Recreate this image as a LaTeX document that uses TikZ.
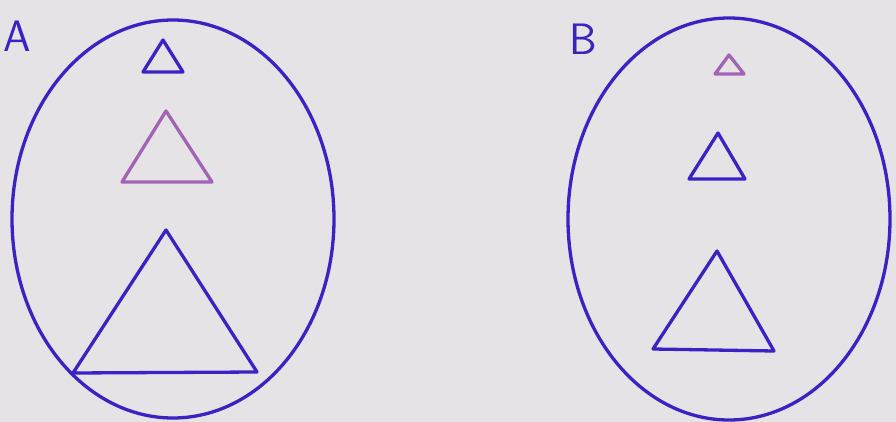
\documentclass[tikz,border=0pt]{standalone}
\begin{document}
\begin{tikzpicture}[x=1pt,y=-1pt]
\definecolor{paper}{HTML}{E5E3E6}
\definecolor{inkblue}{HTML}{3A22C4}
\definecolor{inkpink}{HTML}{A263B4}
\tikzset{
  bluestroke/.style={draw=inkblue,line width=3.3pt,line join=round,line cap=round},
  pinkstroke/.style={draw=inkpink,line width=3.3pt,line join=round,line cap=round},
  lbl/.style={text=inkblue,font=\fontsize{44}{44}\selectfont\sffamily,inner sep=0pt,anchor=center}
}
\fill[paper] (0,0) rectangle (896,422);
\useasboundingbox (0,0) rectangle (896,422);
% ovals
\draw[bluestroke] (173,219) ellipse [x radius=161, y radius=199];
\draw[bluestroke] (729,219) ellipse [x radius=161, y radius=201];
% labels
\node[lbl] (la) at (17,36) {A};
\node[lbl] (lb) at (583,39) {B};
% triangles A
\draw[bluestroke] (163,40) -- (183,72) -- (143,72) -- cycle;
\draw[pinkstroke] (166,111) -- (212,182) -- (122,182) -- cycle;
\draw[bluestroke] (166,230) -- (257,372) -- (73,373) -- cycle;
% triangles B
\draw[pinkstroke] (729,55) -- (744,74) -- (715,74) -- cycle;
\draw[bluestroke] (718,133) -- (745,179) -- (689,179) -- cycle;
\draw[bluestroke] (717,251) -- (774,351) -- (653,349) -- cycle;
\end{tikzpicture}
\end{document}
